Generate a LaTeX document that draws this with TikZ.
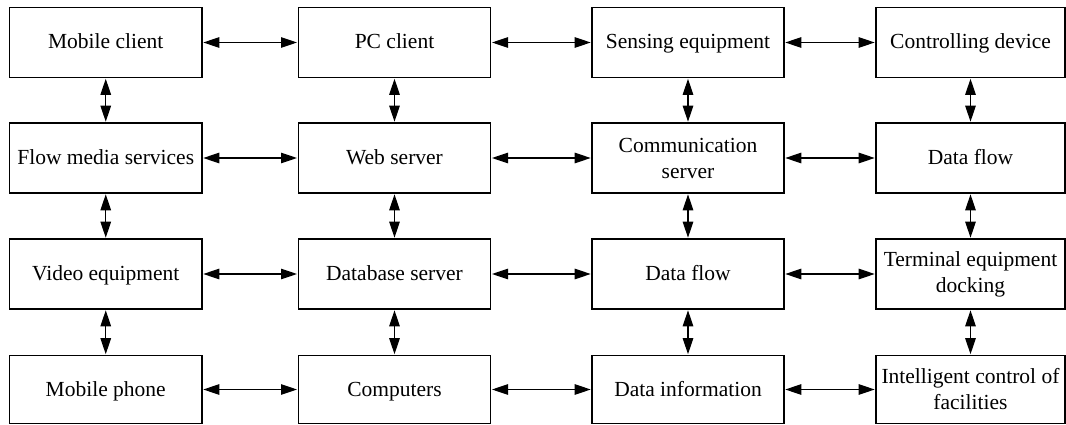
\documentclass[tikz,border=0pt]{standalone}
\usepackage{fontspec}
\setmainfont{Liberation Serif}
\usetikzlibrary{arrows.meta}
\begin{document}
\begin{tikzpicture}[x=1pt,y=-1pt,
  box/.style={draw, line width=1.4pt, rectangle, minimum height=70pt,
    inner sep=1pt, align=center, font=\fontsize{21.5}{26}\selectfont},
  one/.style={box, text height=14pt, text depth=1pt},
  link/.style={line width=1.2pt, {Triangle[length=16pt,width=10.5pt]}-{Triangle[length=16pt,width=10.5pt]}, shorten <=0.6pt, shorten >=0.6pt}]
\useasboundingbox (0,0) rectangle (1066,425);
% column x-centres and widths
\def\ca{105.75}\def\cb{394.5}\def\cc{688}\def\cd{970.5}
% row 1
\node[one, minimum width=192.5pt] (m11) at (\ca,42.5) {Mobile client};
\node[one, minimum width=192.4pt] (m12) at (\cb,42.5) {PC client};
\node[one, minimum width=192pt]   (m13) at (\cc,42.5) {Sensing equipment};
\node[one, minimum width=189pt]   (m14) at (\cd,42.5) {Controlling device};
% row 2
\node[one, minimum width=192.5pt] (m21) at (\ca,158) {Flow media services};
\node[one, minimum width=192.4pt] (m22) at (\cb,158) {Web server};
\node[box, minimum width=192pt]   (m23) at (\cc,158) {Communication\\server};
\node[one, minimum width=189pt]   (m24) at (\cd,158) {Data flow};
% row 3
\node[one, minimum width=192.5pt] (m31) at (\ca,274) {Video equipment};
\node[one, minimum width=192.4pt] (m32) at (\cb,274) {Database server};
\node[one, minimum width=192pt]   (m33) at (\cc,274) {Data flow};
\node[box, minimum width=189pt]   (m34) at (\cd,274) {Terminal equipment\\docking};
% row 4
\node[one, minimum width=192.5pt, minimum height=68pt] (m41) at (\ca,389.5) {Mobile phone};
\node[one, minimum width=192.4pt, minimum height=68pt] (m42) at (\cb,389.5) {Computers};
\node[one, minimum width=192pt, minimum height=68pt]   (m43) at (\cc,389.5) {Data information};
\node[box, minimum width=189pt, minimum height=68pt]   (m44) at (\cd,389.5) {Intelligent control of\\facilities};
% horizontal links
\foreach \r in {1,2,3,4}{
  \draw[link] (m\r1.east) -- (m\r2.west);
  \draw[link] (m\r2.east) -- (m\r3.west);
  \draw[link] (m\r3.east) -- (m\r4.west);
}
% vertical links
\foreach \c in {1,2,3,4}{
  \draw[link] (m1\c.south) -- (m2\c.north);
  \draw[link] (m2\c.south) -- (m3\c.north);
  \draw[link] (m3\c.south) -- (m4\c.north);
}
\end{tikzpicture}
\end{document}
